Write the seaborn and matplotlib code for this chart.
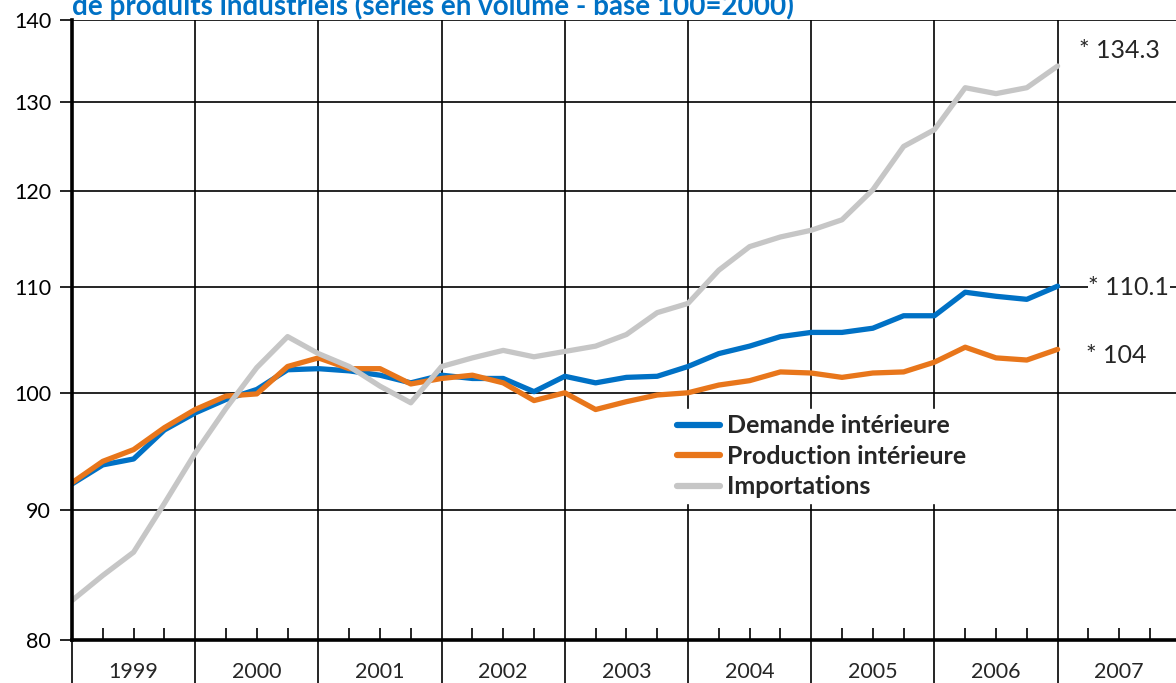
import numpy as np
import pandas as pd
import matplotlib
matplotlib.use("Agg")
import matplotlib.pyplot as plt
import matplotlib.ticker as mticker
import seaborn as sns

# quarterly series, 1999 Q1 -> 2007 Q1 (base 100 = 2000)
demande = [92.1, 93.7, 94.2, 96.7, 98.2, 99.4, 100.3, 102.1, 102.2, 102.0, 101.6,
           100.9, 101.6, 101.3, 101.3, 100.1, 101.5, 100.9, 101.4, 101.5, 102.4,
           103.6, 104.3, 105.2, 105.6, 105.6, 106.0, 107.2, 107.2, 109.5, 109.1,
           108.8, 110.1]
production = [92.2, 94.0, 95.0, 96.9, 98.5, 99.7, 99.9, 102.4, 103.2, 102.2, 102.2,
              100.8, 101.3, 101.6, 100.9, 99.3, 100.0, 98.5, 99.2, 99.8, 100.0,
              100.7, 101.1, 101.9, 101.8, 101.4, 101.8, 101.9, 102.8, 104.2, 103.2,
              103.0, 104.0]
importations = [82.9, 84.8, 86.6, 90.5, 94.7, 98.6, 102.3, 105.2, 103.6, 102.4, 100.6,
                99.1, 102.4, 103.2, 103.9, 103.3, 103.8, 104.3, 105.4, 107.5, 108.4,
                111.7, 114.1, 115.1, 115.8, 116.9, 120.1, 124.9, 126.8, 131.7, 131.0,
                131.7, 134.3]
series_names = ["Demande intérieure", "Production intérieure", "Importations"]
colors = ["#0071C5", "#E8761B", "#C6C6C6"]
years = [1999, 2000, 2001, 2002, 2003, 2004, 2005, 2006, 2007]
y_ticks = [80, 90, 100, 110, 120, 130, 140]
end_labels = ["* 110.1", "* 104", "* 134.3"]
title = "de produits industriels (séries en volume - base 100=2000)"

t = 1999 + np.arange(len(demande)) / 4
df = pd.DataFrame({
    "t": np.concatenate([t, t, t]),
    "valeur": demande + production + importations,
    "serie": np.repeat(series_names, len(t)),
})

sns.set_style("white")
plt.rcParams["font.family"] = ["Lato", "DejaVu Sans"]

fig = plt.figure(figsize=(11.76, 6.83), dpi=100)
ax = fig.add_axes([72 / 1176, 43 / 683, 1104 / 1176, 620 / 683])

sns.lineplot(data=df, x="t", y="valeur", hue="serie", hue_order=series_names,
             palette=dict(zip(series_names, colors)), linewidth=3.8, ax=ax,
             legend=False)

ax.set_yscale("log")
ax.set_ylim(80, 140)
ax.set_xlim(1999, 1999 + 1104 / 123.2)
ax.yaxis.set_major_locator(mticker.FixedLocator(y_ticks))
ax.yaxis.set_major_formatter(mticker.FixedFormatter([str(v) for v in y_ticks]))
ax.yaxis.set_minor_locator(mticker.NullLocator())
ax.xaxis.set_major_locator(mticker.FixedLocator(years))
ax.xaxis.set_major_formatter(mticker.NullFormatter())
ax.xaxis.set_minor_locator(mticker.FixedLocator(
    [y + q / 4 for y in years for q in (1, 2, 3)]))

ax.grid(True, which="major", color="black", linewidth=1.2)
ax.set_axisbelow(True)
ax.tick_params(axis="both", which="both", bottom=True, left=True)
ax.tick_params(axis="y", which="major", direction="out", length=9, width=1.2,
               pad=6, labelsize=15.5, color="black", labelcolor="black")
ax.tick_params(axis="x", which="major", direction="out", length=34, width=1.2,
               color="black")
ax.tick_params(axis="x", which="minor", direction="in", length=9, width=1.2,
               color="black")
for s in ["top", "right"]:
    ax.spines[s].set_visible(False)
ax.spines["bottom"].set_linewidth(2.6)
ax.spines["left"].set_linewidth(2.6)
ax.spines["bottom"].set_color("black")
ax.spines["left"].set_color("black")
ax.set_xlabel("")
ax.set_ylabel("")

for y in years:
    ax.text(y + 0.5, -0.052, str(y), transform=ax.get_xaxis_transform(),
            ha="center", va="center", fontsize=15.5, clip_on=False)

# end-of-series labels (x offset in years, y in data units)
label_pos = [(t[-1] + 0.25, 110.0), (t[-1] + 0.23, 103.4), (t[-1] + 0.17, 136.2)]
for lab, (lx, ly) in zip(end_labels, label_pos):
    ax.text(lx, ly, lab, fontsize=18, va="center", ha="left",
            bbox=dict(facecolor="white", edgecolor="none", pad=0.5))

handles = [plt.Line2D([], [], color=c, linewidth=4.5) for c in colors]
leg = ax.legend(handles, series_names, loc="upper left",
                bbox_to_anchor=(0.5325, 0.392), frameon=True, framealpha=1,
                edgecolor="white", fancybox=False, borderpad=0.2,
                handlelength=1.7, handletextpad=0.3, labelspacing=0.3,
                prop={"size": 18, "weight": "bold"})

fig.text(72 / 1176, 1 - 15 / 683, title, color="#0071C5", fontsize=20,
         fontweight="bold", ha="left", va="baseline")

fig.savefig("out.png", dpi=100)
